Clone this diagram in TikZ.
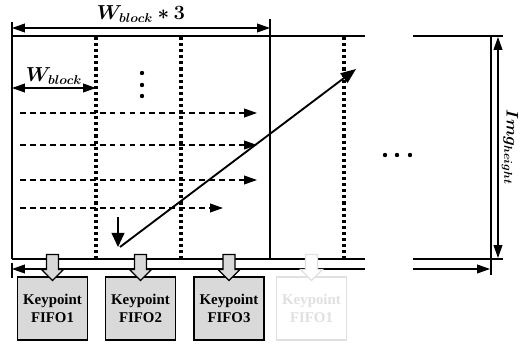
\documentclass[tikz,border=0pt]{standalone}
\usepackage{amsmath,bm}
\usepackage{fontspec}
\setmainfont{Liberation Serif}
\usetikzlibrary{arrows.meta}
\definecolor{fifogray}{HTML}{D9D9D9}
\definecolor{fadegray}{HTML}{E0E0E0}

\tikzset{
  frame/.style={line width=1.5pt},
  tip/.style={-{Triangle[length=11pt,width=7.5pt]}},
  dim/.style={line width=1pt,{Triangle[length=11pt,width=7.5pt]}-{Triangle[length=11pt,width=7.5pt]}},
  scan/.style={line width=1pt,dash pattern=on 5pt off 3.5pt,tip},
  blockline/.style={line width=3pt,dash pattern=on 2.6pt off 2.6pt},
  lbl/.style={font=\fontsize{16}{19}\selectfont},
  fifo/.style={draw,fill=fifogray,line width=1.2pt,minimum width=2.1cm,minimum height=1.89cm,
    align=center,inner sep=0pt,font=\bfseries\fontsize{12.7}{15.5}\selectfont},
  fifooff/.style={fifo,draw=fadegray,fill=white,text=fadegray},
  pushoff/.style={draw=fadegray,fill=white},
  pics/push/.style={code={
    \draw[line width=1.1pt,fill=fifogray,#1]
      (-6,-13) -- (6,-13) -- (6,2) -- (11,2) -- (0,13) -- (-11,2) -- (-6,2) -- cycle;
  }},
  pics/push/.default={}
}

\begin{document}
\begin{tikzpicture}[x=0.03cm,y=-0.03cm]
  \useasboundingbox (0,0) rectangle (523,345);

  % image frame, split where the columns are left out
  \draw[frame] (12,36) -- (365,36);
  \draw[frame] (413,36) -- (503,36);
  \draw[frame] (12,259) -- (365,259);
  \draw[frame] (413,259) -- (503,259);
  \draw[frame] (12,22) -- (12,259);
  \draw[frame] (491,36) -- (491,275);
  \draw[line width=1pt] (270,19) -- (270,259);
  \draw[line width=1pt] (12,263) -- (12,278);

  % block borders
  \foreach \x in {96,181,344}
    \draw[blockline] (\x,37) -- (\x,259);

  % widths and height
  \coordinate (w3l) at (12,28);
  \coordinate (w3r) at (270,28);
  \draw[dim] (w3l) -- node[lbl,above=1pt] {$\bm{W_{block}*3}$} (w3r);
  \coordinate (wbl) at (12,88);
  \coordinate (wbr) at (96,88);
  \draw[dim] (wbl) -- node[lbl,above=-1pt] {$\bm{W_{block}}$} (wbr);
  \coordinate (ht) at (498,37);
  \coordinate (hb) at (498,258);
  \draw[dim] (ht) -- (hb);
  \node[font=\fontsize{14.5}{17}\selectfont,rotate=-90,inner sep=0pt] (imgh) at (510,147) {$\bm{Img_{height}}$};

  % bottom arrow
  \coordinate (bl) at (12,269);
  \coordinate (bm) at (365,269);
  \coordinate (bn) at (413,269);
  \coordinate (br) at (490,269);
  \draw[line width=1pt,{Triangle[length=11pt,width=7.5pt]}-] (bl) -- (bm);
  \draw[line width=1pt,tip] (bn) -- (br);

  % row scan
  \foreach \y/\e [count=\i] in {113/257,145/257,180/257,208/223} {
    \coordinate (s\i) at (20,\y);
    \coordinate (e\i) at (\e,\y);
    \draw[scan] (s\i) -- (e\i);
  }
  \coordinate (dtop) at (118,217);
  \coordinate (dbot) at (118,247);
  \draw[line width=1.2pt,-{Triangle[length=12pt,width=11pt]}] (dtop) -- (dbot);
  \coordinate (jmp) at (120,247);
  \coordinate (jmpend) at (356,69);
  \draw[line width=1.6pt,-{Triangle[length=13pt,width=10pt]}] (jmp) -- (jmpend);

  \foreach \y in {73,85,96}
    \fill (142,\y) circle (2.2);
  \foreach \x in {385,397,410}
    \fill (\x,155) circle (2.2);

  % keypoint FIFOs
  \node[fifo] (fifo1) at (52.5,308.5) {Keypoint\\FIFO1};
  \node[fifo] (fifo2) at (140.5,308.5) {Keypoint\\FIFO2};
  \node[fifo] (fifo3) at (229,308.5) {Keypoint\\FIFO3};
  \node[fifooff] (fifo4) at (311.5,308.5) {Keypoint\\FIFO1};
  \pic at (52.5,267.5) {push};
  \pic at (140.5,267.5) {push};
  \pic at (229,267.5) {push};
  \pic at (311.5,267.5) {push=pushoff};
\end{tikzpicture}
\end{document}
